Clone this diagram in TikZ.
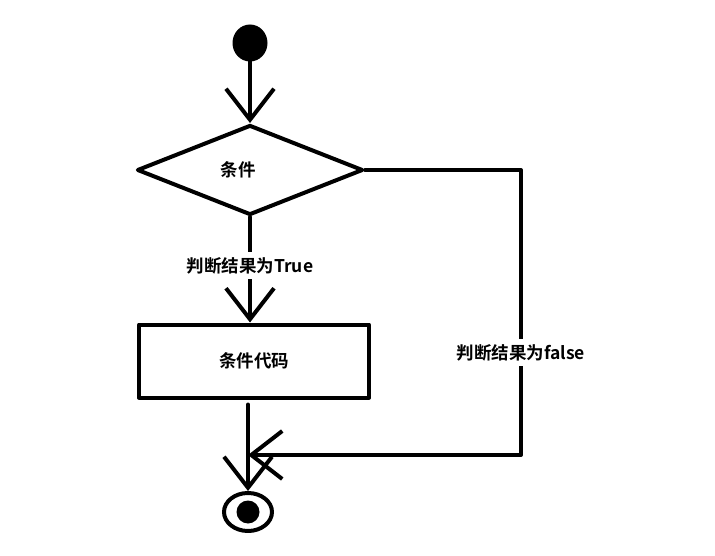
\documentclass[tikz,border=0pt]{standalone}
\usepackage{fontspec}
\usetikzlibrary{arrows.meta,positioning,shapes.geometric}
\newfontfamily\cjk{Noto Sans CJK SC Bold}
\tikzset{
  flow/.style={line width=4pt,line join=round,line cap=round},
  ar/.style={flow,-{Straight Barb[length=31pt,width=48pt,line width=4pt]}},
  lbl/.style={fill=white,inner sep=5pt},
}

\begin{document}
\begin{tikzpicture}[x=1pt,y=-1pt, every node/.style={font=\cjk\fontsize{17.5}{20}\selectfont}]
\useasboundingbox (0,0) rectangle (715,556);
\node[ellipse,fill,inner sep=0,minimum width=35pt,minimum height=37pt] (start) at (250,43) {};
\node[diamond,draw,flow,inner sep=0,minimum width=226pt,minimum height=90pt] (cond) at (250,170) {条件\rule{24pt}{0pt}};
\node[draw,flow,minimum width=230pt,minimum height=73pt] (code) at (254,361) {条件代码};
\node[ellipse,draw,flow,inner sep=0,minimum width=48pt,minimum height=38pt] (stop) at (248,512) {};
\node[circle,fill,inner sep=0,minimum size=23pt] (stopdot) at (stop.center) {};
\coordinate (join) at (248,455);
% main flow
\draw[ar] (start) -- (cond);
\draw[ar] (cond.south) -- node[lbl,pos=0.46]{判断结果为True} (cond.south |- code.north);
\draw[ar,shorten <=5pt] (code.south -| stop.north) -- (stop);
% false branch
\draw[ar] (cond.east) -- ++(156,0) |- node[lbl,pos=0.32]{判断结果为false} (join);
\end{tikzpicture}
\end{document}
